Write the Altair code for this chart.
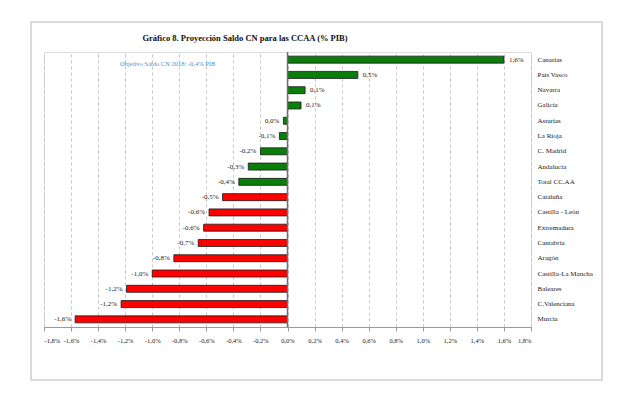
import altair as alt
import pandas as pd

categories = ["Canarias", "País Vasco", "Navarra", "Galicia", "Asturias", "La Rioja",
              "C. Madrid", "Andalucía", "Total CC.AA", "Cataluña", "Castilla - León",
              "Extremadura", "Cantabria", "Aragón", "Castilla-La Mancha", "Baleares",
              "C.Valenciana", "Murcia"]
values = [1.6, 0.52, 0.13, 0.1, -0.03, -0.06, -0.2, -0.29, -0.36, -0.48, -0.58,
          -0.62, -0.66, -0.84, -1.0, -1.19, -1.23, -1.57]
cumple = ["sí"] * 9 + ["no"] * 9
ticks = [-1.8, -1.6, -1.4, -1.2, -1.0, -0.8, -0.6, -0.4, -0.2, 0.0,
         0.2, 0.4, 0.6, 0.8, 1.0, 1.2, 1.4, 1.6, 1.8]
title_text = "Gráfico 8. Proyección Saldo CN para las CCAA (% PIB)"
note_text = "Objetivo Saldo CN 2018: -0,4% PIB"

df = pd.DataFrame({"ccaa": categories, "v": values, "cumple": cumple})

FONT = "Liberation Serif"
W, H = 487, 275
FMT = "replace(replace(format({f}, '.1f'), '.', ','), '\u2212', '-') + '%'"

base = alt.Chart(df).transform_calculate(lbl=FMT.format(f="datum.v"))

xs = alt.Scale(domain=[-1.8, 1.8], nice=False, zero=False)
ys = alt.Scale(domain=categories, paddingInner=0.54, paddingOuter=0.27)

x_axis = alt.Axis(values=ticks, title=None, grid=True, gridDash=[3, 3],
                  gridColor="#c4c4c4", gridWidth=1,
                  domainColor="#9a9a9a", tickColor="#9a9a9a", tickSize=4,
                  labelFont=FONT, labelFontSize=6.5, labelColor="#222",
                  labelPadding=6, labelOverlap=False,
                  labelExpr=FMT.format(f="datum.value"))
y_axis = alt.Axis(orient="right", title=None, domain=False, ticks=False,
                  grid=False, labelPadding=6, labelFont=FONT,
                  labelFontSize=7, labelColor="#222", labelAlign="left")

X = alt.X("v:Q", scale=xs, axis=x_axis)
Y = alt.Y("ccaa:N", scale=ys, sort=categories, axis=y_axis)

bars = base.mark_bar(stroke="#1a1a1a", strokeWidth=0.8, size=7).encode(
    x=X, x2=alt.datum(0), y=Y,
    color=alt.Color("cumple:N", scale=alt.Scale(domain=["sí", "no"],
                                                range=["#0a7d0a", "#ff0000"]),
                    legend=None),
)

zero = alt.Chart(pd.DataFrame({"v": [0.0]})).mark_rule(color="#707070", strokeWidth=1.5).encode(
    x=X
)

pos_lbl = base.transform_filter("datum.v >= 0").mark_text(
    align="left", baseline="middle", dx=5, font=FONT, fontSize=7, color="#222"
).encode(x=X, y=Y, text="lbl:N")

neg_lbl = base.transform_filter("datum.v < 0").mark_text(
    align="right", baseline="middle", dx=-4, font=FONT, fontSize=7, color="#222"
).encode(x=X, y=Y, text="lbl:N")

title = alt.Chart(pd.DataFrame({"t": [title_text]})).mark_text(
    font=FONT, fontSize=8.5, fontWeight="bold", color="#111", align="center", baseline="middle"
).encode(x=alt.value(201), y=alt.value(-14), text="t:N")

note = alt.Chart(pd.DataFrame({"t": [note_text]})).mark_text(
    font=FONT, fontSize=6.5, color="#3f8fd6", align="left", baseline="middle"
).encode(x=alt.value(76), y=alt.value(12), text="t:N")

frame = alt.Chart(pd.DataFrame({"a": [0]})).mark_rect(
    fill=None, stroke="#cfcfcf", strokeWidth=1.5, clip=False
).encode(x=alt.value(-13), x2=alt.value(558), y=alt.value(-30), y2=alt.value(328))

chart = alt.layer(frame, bars, zero, pos_lbl, neg_lbl, title, note).properties(
    width=W, height=H,
    autosize=alt.AutoSizeParams(type="none"),
    padding={"left": 36, "top": 44, "right": 104, "bottom": 62},
).configure_view(stroke=None).configure(background="white")

chart.save("out.html", embed_options={"renderer": "svg", "actions": False})
